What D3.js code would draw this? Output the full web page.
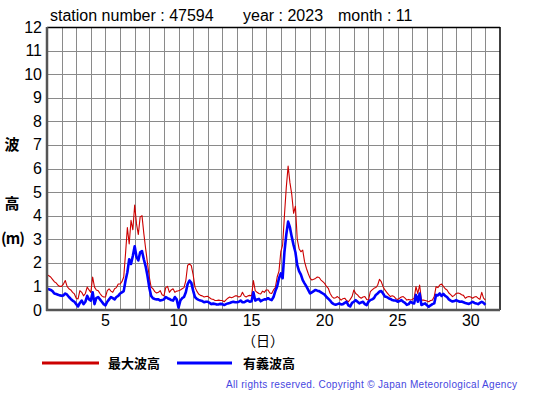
<!DOCTYPE html>
<html><head><meta charset="utf-8">
<script src="https://cdn.jsdelivr.net/npm/d3@7"></script>
<style>
body{margin:0;background:#fff;}
svg text{font-family:"Liberation Sans",Arial,sans-serif;}
</style></head>
<body><svg id="c" width="555" height="395"></svg>
<script>
// 3-hourly values from day 1 00h to day 31 00h (m)
const sigWave = [
0.90,0.88,0.85,0.80,0.70,0.68,0.65,0.62,
0.60,0.62,0.70,0.65,0.55,0.47,0.40,0.35,
0.25,0.15,0.30,0.40,0.25,0.35,0.60,0.45,
0.40,0.75,0.25,0.50,0.55,0.45,0.35,0.25,
0.20,0.35,0.45,0.55,0.50,0.45,0.55,0.60,
0.70,0.75,0.80,1.25,1.60,2.15,1.95,2.30,
2.70,2.25,2.10,2.45,2.50,2.15,1.85,1.45,
0.95,0.60,0.50,0.47,0.45,0.45,0.40,0.42,
0.45,0.55,0.50,0.47,0.42,0.40,0.55,0.45,
0.10,0.40,0.50,0.55,0.75,1.10,1.25,1.15,
0.82,0.55,0.47,0.43,0.40,0.38,0.33,0.35,
0.35,0.30,0.25,0.27,0.25,0.23,0.24,0.26,
0.25,0.21,0.25,0.28,0.30,0.33,0.35,0.33,
0.33,0.35,0.40,0.33,0.33,0.38,0.40,0.35,
0.37,0.75,0.40,0.45,0.47,0.37,0.42,0.45,
0.45,0.50,0.45,0.42,0.55,0.80,1.00,1.35,
1.55,1.35,2.47,3.20,3.75,3.50,3.10,2.75,
2.45,1.90,1.65,1.50,1.27,1.13,1.00,0.85,
0.70,0.75,0.80,0.85,0.82,0.80,0.75,0.70,
0.65,0.55,0.48,0.40,0.30,0.25,0.22,0.25,
0.28,0.24,0.25,0.30,0.35,0.20,0.15,0.30,
0.35,0.42,0.35,0.28,0.32,0.35,0.25,0.21,
0.35,0.42,0.45,0.50,0.64,0.70,0.78,0.80,
0.70,0.57,0.55,0.50,0.47,0.42,0.40,0.40,
0.35,0.38,0.42,0.35,0.30,0.22,0.25,0.35,
0.30,0.28,0.64,0.35,0.70,0.21,0.25,0.28,
0.20,0.14,0.20,0.25,0.28,0.64,0.62,0.70,
0.60,0.68,0.60,0.55,0.45,0.40,0.36,0.38,
0.42,0.38,0.35,0.36,0.33,0.30,0.28,0.26,
0.30,0.35,0.30,0.28,0.25,0.30,0.35,0.30,
0.22];
const maxWave = [
1.50,1.45,1.40,1.30,1.20,1.15,1.05,1.00,
1.00,1.10,1.25,1.00,0.90,0.85,0.75,0.68,
0.50,0.47,0.82,0.75,0.60,0.70,0.97,0.85,
0.75,1.40,0.97,0.85,0.82,0.70,0.60,0.55,
0.55,0.82,0.90,0.80,0.75,0.90,0.95,1.10,
1.10,1.20,1.40,2.40,3.50,2.80,3.80,3.40,
4.45,3.65,3.20,3.95,4.00,3.25,2.60,2.00,
1.40,0.97,0.90,0.78,0.72,0.75,0.82,0.65,
0.60,0.95,1.00,0.75,0.85,0.90,0.75,0.80,
0.82,0.85,0.90,0.95,1.25,1.90,1.95,1.88,
1.50,0.97,0.80,0.68,0.62,0.60,0.55,0.57,
0.58,0.52,0.47,0.45,0.40,0.40,0.42,0.40,
0.40,0.35,0.43,0.50,0.55,0.52,0.55,0.60,
0.60,0.55,0.58,0.75,0.60,0.55,0.60,0.62,
0.60,1.25,0.82,0.75,0.70,0.68,0.80,0.75,
0.85,0.85,0.72,0.70,0.85,0.95,1.40,1.65,
2.47,2.76,4.03,5.20,6.10,5.40,4.90,4.10,
4.40,3.00,2.60,2.47,2.54,2.05,1.77,1.55,
1.35,1.27,1.30,1.34,1.40,1.38,1.27,1.20,
1.13,1.00,0.92,0.70,0.57,0.50,0.52,0.57,
0.50,0.42,0.48,0.50,0.40,0.35,0.45,0.57,
0.85,0.70,0.64,0.55,0.50,0.55,0.57,0.45,
0.42,0.78,0.85,0.92,0.95,1.05,1.30,1.20,
0.99,0.85,0.75,0.65,0.57,0.60,0.57,0.48,
0.45,0.50,0.55,0.57,0.50,0.42,0.45,0.42,
0.45,0.50,0.99,0.70,1.06,0.42,0.42,0.40,
0.38,0.35,0.40,0.42,0.57,0.99,0.95,1.06,
1.10,1.00,0.90,0.85,0.72,0.65,0.57,0.62,
0.70,0.72,0.70,0.65,0.62,0.50,0.55,0.57,
0.55,0.50,0.55,0.57,0.50,0.45,0.75,0.50,
0.42];
const xTicks = [5,10,15,20,25,30];
const yTicks = [0,1,2,3,4,5,6,7,8,9,10,11,12];
const titleParts = ["station number : 47594","year : 2023","month : 11"];
const legendNames = ["最大波高","有義波高"];
const seriesColors = ["#cc0000","#0000ff"];

const svg = d3.select("#c");
const L=47, T=27, W=453, H=283;
const x = d3.scaleLinear().domain([1,32]).range([L, L+W]);
const y = d3.scaleLinear().domain([0,12]).range([T+H, T]);
const tOf = i => 1 + i/8;

// grid
const g = svg.append("g");
g.selectAll(".vg").data(d3.range(2,32)).enter().append("line")
 .attr("x1",d=>Math.round(x(d))+0.5).attr("x2",d=>Math.round(x(d))+0.5)
 .attr("y1",T).attr("y2",T+H).attr("stroke","#8a8a8a").attr("stroke-width",1);
g.selectAll(".hg").data(d3.range(1,12)).enter().append("line")
 .attr("y1",d=>Math.round(y(d))+0.5).attr("y2",d=>Math.round(y(d))+0.5)
 .attr("x1",L).attr("x2",L+W).attr("stroke","#8a8a8a").attr("stroke-width",1);

// lines
const line = d3.line().x((d,i)=>x(tOf(i))).y(d=>y(d));
svg.append("path").datum(maxWave).attr("d",line).attr("fill","none")
 .attr("stroke",seriesColors[0]).attr("stroke-width",1.1).attr("stroke-linejoin","round");
svg.append("path").datum(sigWave).attr("d",line).attr("fill","none")
 .attr("stroke",seriesColors[1]).attr("stroke-width",2.6).attr("stroke-linejoin","round");

// frame
svg.append("line").attr("x1",L).attr("x2",L+W).attr("y1",T+0.5).attr("y2",T+0.5).attr("stroke","#000").attr("stroke-width",1.5);
svg.append("line").attr("x1",L+W).attr("x2",L+W).attr("y1",T).attr("y2",T+H).attr("stroke","#000").attr("stroke-width",1.5);
svg.append("line").attr("x1",L).attr("x2",L).attr("y1",T).attr("y2",T+H+1).attr("stroke","#555").attr("stroke-width",2.5);
svg.append("line").attr("x1",L-1).attr("x2",L+W).attr("y1",T+H).attr("y2",T+H).attr("stroke","#555").attr("stroke-width",2.5);

// axes labels
svg.selectAll(".yt").data(yTicks).enter().append("text")
 .attr("x",42).attr("y",d=>y(d)+5.5).attr("text-anchor","end")
 .attr("font-size",16).attr("fill","#000").text(d=>d);
svg.selectAll(".xt").data(xTicks).enter().append("text")
 .attr("x",d=>x(d)).attr("y",326).attr("text-anchor","middle")
 .attr("font-size",16).attr("fill","#000").text(d=>d);

// titles
const tx=[50,243,338];
svg.selectAll(".tt").data(titleParts).enter().append("text")
 .attr("x",(d,i)=>tx[i]).attr("y",21).attr("font-size",16).text(d=>d);

// y axis label
const jp = '"Noto Sans CJK JP",sans-serif';
[["波",12,150],["高",12,209]].forEach(([s,xx,yy])=>{
  svg.append("text").attr("x",xx).attr("y",yy).attr("text-anchor","middle")
   .attr("font-size",15).attr("font-weight","bold").style("font-family",jp).text(s);
});
svg.append("text").attr("x",1).attr("y",244).attr("font-size",15).attr("font-weight","bold")
 .attr("textLength",24).attr("lengthAdjust","spacing").style("font-family",jp).text("(m)");
svg.append("text").attr("x",263).attr("y",346).attr("text-anchor","middle")
 .attr("font-size",14).style("font-family",jp).text("（日）");

// legend
const lg=[[42,99,108],[177,232,243]];
lg.forEach((p,i)=>{
  svg.append("line").attr("x1",p[0]).attr("x2",p[1]).attr("y1",363).attr("y2",363)
   .attr("stroke",seriesColors[i]).attr("stroke-width",3);
  svg.append("text").attr("x",p[2]).attr("y",368).attr("font-size",13).attr("font-weight","bold")
   .style("font-family",jp).text(legendNames[i]);
});
svg.append("text").attr("x",226).attr("y",388).attr("font-size",10)
 .attr("fill","#4646e0").attr("textLength",291).attr("lengthAdjust","spacing")
 .text("All rights reserved. Copyright © Japan Meteorological Agency");
</script></body></html>
